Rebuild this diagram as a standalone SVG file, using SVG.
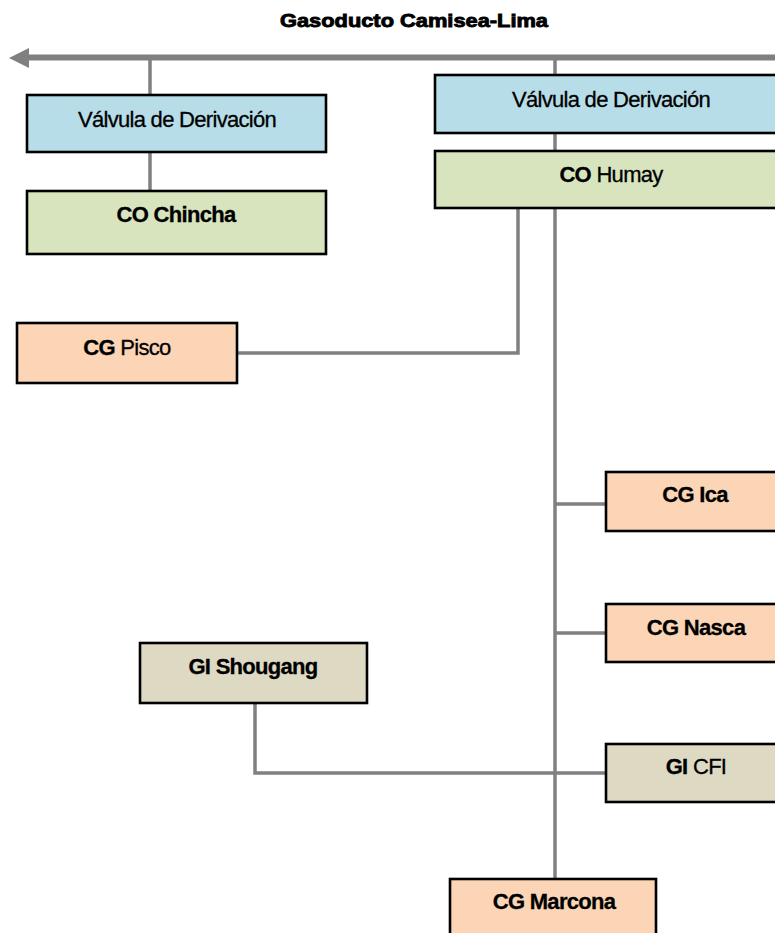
<svg xmlns="http://www.w3.org/2000/svg" width="775" height="933" viewBox="0 0 775 933">
<style>
.box{stroke:#000;stroke-width:2.6}
.v{fill:#b7dde8}.co{fill:#d7e4bd}.cg{fill:#fbd5b5}.gi{fill:#ddd9c3}
.t{font-family:"Liberation Sans",Arial,sans-serif;font-size:22px;letter-spacing:-0.7px;fill:#000;stroke:#000;stroke-width:0.3;text-anchor:middle}
.b{font-weight:bold}
.c{fill:none;stroke:#808080;stroke-width:3.5}
</style>
<rect width="775" height="933" fill="#fff"/>
<text x="414" y="27" font-family="Liberation Sans,Arial,sans-serif" font-size="19" font-weight="bold" text-anchor="middle" stroke="#000" stroke-width="0.9" textLength="268" lengthAdjust="spacingAndGlyphs">Gasoducto Camisea-Lima</text>
<g id="connectors">
<line x1="26" y1="57.5" x2="775" y2="57.5" stroke="#808080" stroke-width="6"/>
<polygon points="9,58 29,48 29,68" fill="#808080"/>
<path class="c" d="M150,58V95M150,152V191"/>
<path class="c" d="M555,58V75M555,133V151"/>
<path class="c" d="M555,208V879"/>
<path class="c" d="M237,353H518V208"/>
<path class="c" d="M555,504H606M555,633H606"/>
<path class="c" d="M255,703V773H606"/>
</g>
<g id="valvula1"><rect class="box v" x="27" y="95" width="299" height="57"/><text class="t" x="177" y="127">Válvula de Derivación</text></g>
<g id="valvula2"><rect class="box v" x="435" y="75" width="360" height="58"/><text class="t" x="611" y="107">Válvula de Derivación</text></g>
<g id="chincha"><rect class="box co" x="27" y="191" width="299" height="63"/><text class="t" x="176" y="222"><tspan class="b">CO Chincha</tspan></text></g>
<g id="humay"><rect class="box co" x="435" y="151" width="360" height="57"/><text class="t" x="611" y="182"><tspan class="b">CO</tspan> Humay</text></g>
<g id="pisco"><rect class="box cg" x="17" y="323" width="220" height="60"/><text class="t" x="127" y="355"><tspan class="b">CG</tspan> Pisco</text></g>
<g id="ica"><rect class="box cg" x="606" y="472" width="190" height="59"/><text class="t b" x="695" y="502">CG Ica</text></g>
<g id="nasca"><rect class="box cg" x="606" y="604" width="190" height="58"/><text class="t b" x="696" y="635">CG Nasca</text></g>
<g id="shougang"><rect class="box gi" x="140" y="643" width="227" height="60"/><text class="t b" x="253" y="674">GI Shougang</text></g>
<g id="cfi"><rect class="box gi" x="606" y="744" width="190" height="58"/><text class="t" x="696" y="774"><tspan class="b">GI</tspan> CFI</text></g>
<g id="marcona"><rect class="box cg" x="450" y="879" width="206" height="70"/><text class="t b" x="554" y="909">CG Marcona</text></g>
</svg>
